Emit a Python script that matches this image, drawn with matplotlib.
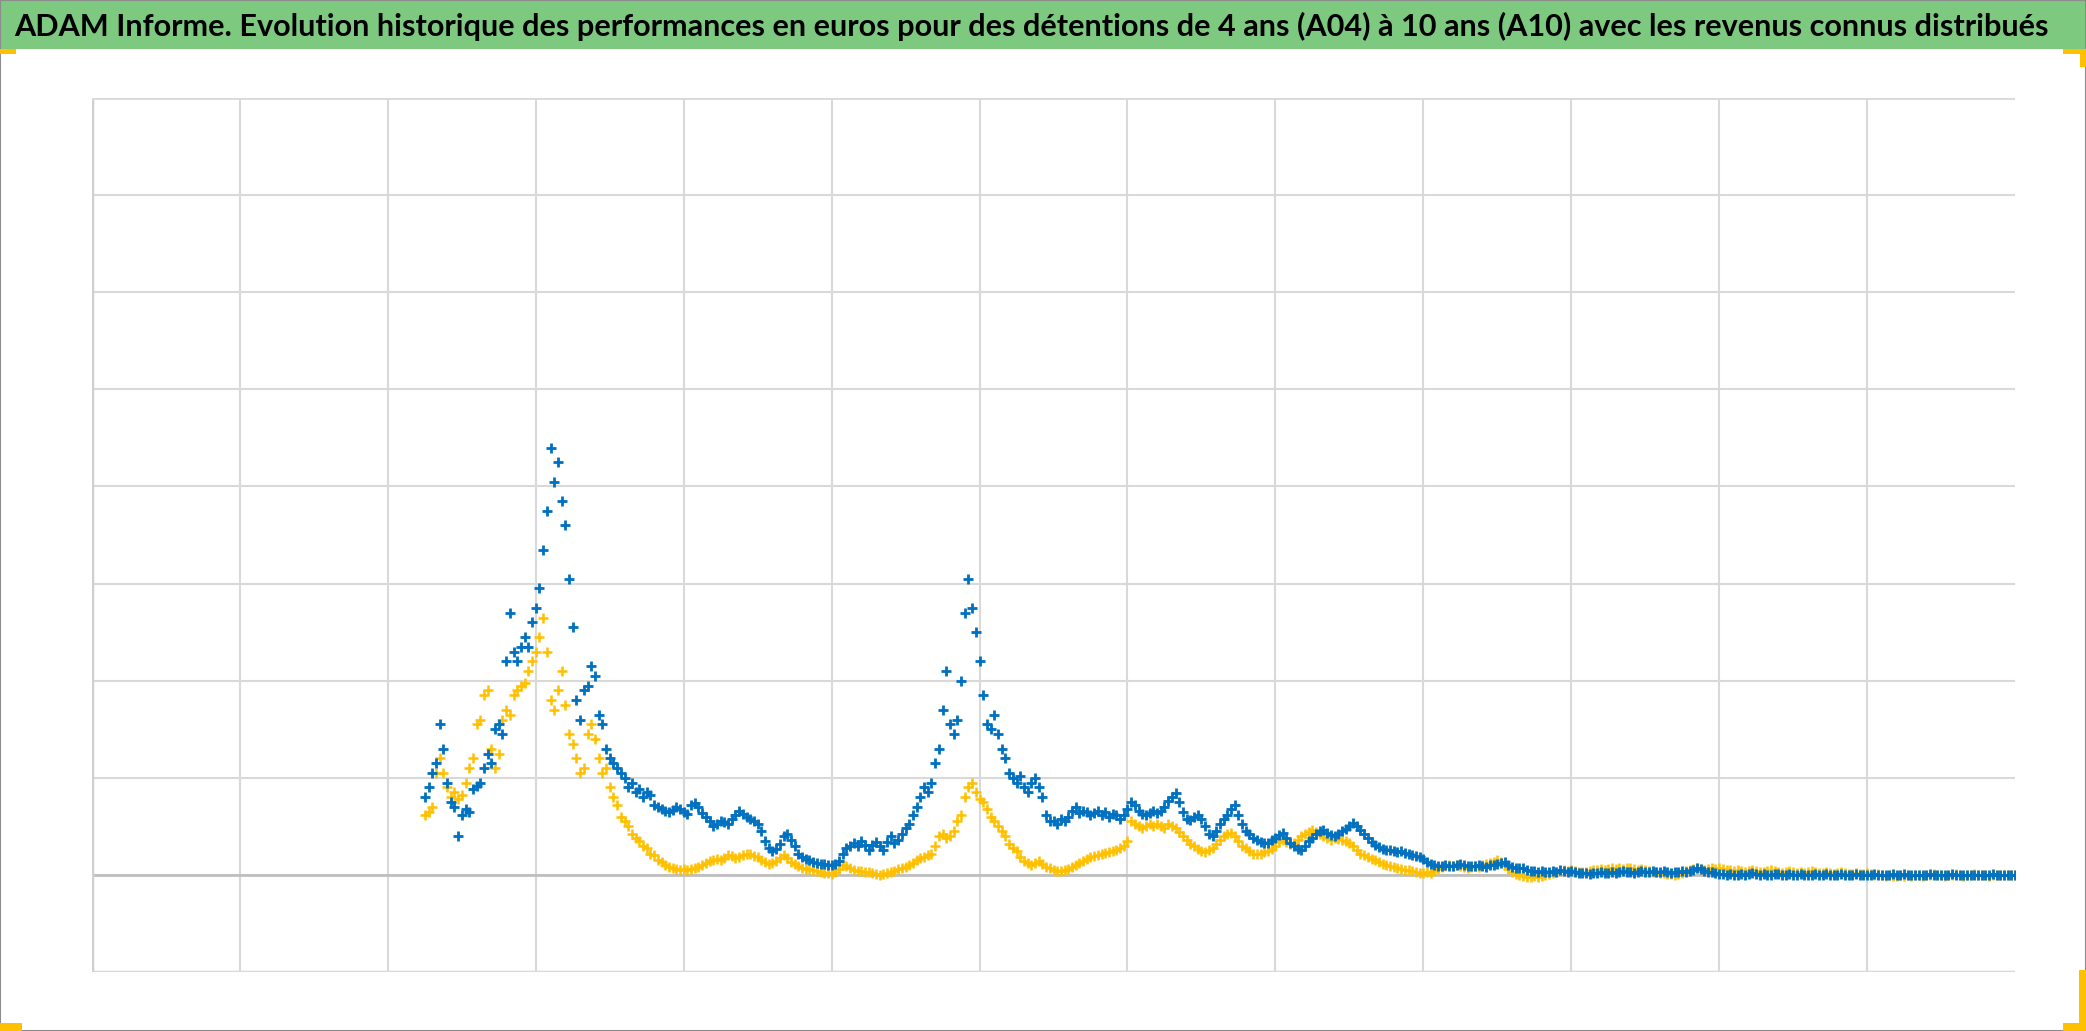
#!/usr/bin/env python3
# -*- coding: utf-8 -*-
import numpy as np
from matplotlib import pyplot as plt
from matplotlib.patches import Rectangle

title = ('ADAM Informe. Evolution historique des performances en euros pour des détentions '
         'de 4 ans (A04) à 10 ans (A10) avec les revenus connus distribués')

# both series are sampled every 0.025 grid units, starting at x = 2.25
x_start = 2.25
x_step = 0.025

# detention 4 ans (A04), blue
perf_a04 = [
    0.80, 0.90, 1.05, 1.15, 1.55, 1.30, 0.95, 0.75, 0.70, 0.40, 0.62, 0.68, 0.65, 0.88, 0.92, 0.95, 1.10, 1.25, 1.15, 1.50,
    1.55, 1.45, 2.20, 2.70, 2.30, 2.20, 2.35, 2.45, 2.35, 2.60, 2.75, 2.95, 3.35, 3.75, 4.40, 4.05, 4.25, 3.85, 3.60, 3.05,
    2.55, 1.80, 1.60, 1.90, 1.95, 2.15, 2.05, 1.65, 1.55, 1.30, 1.20, 1.15, 1.10, 1.05, 1.00, 0.90, 0.95, 0.85, 0.88, 0.80,
    0.85, 0.82, 0.72, 0.70, 0.68, 0.66, 0.65, 0.67, 0.70, 0.68, 0.65, 0.63, 0.72, 0.74, 0.70, 0.64, 0.60, 0.55, 0.50, 0.52,
    0.56, 0.54, 0.52, 0.58, 0.62, 0.66, 0.63, 0.60, 0.58, 0.56, 0.52, 0.45, 0.35, 0.28, 0.25, 0.27, 0.32, 0.40, 0.42, 0.36,
    0.30, 0.22, 0.18, 0.16, 0.15, 0.13, 0.12, 0.11, 0.11, 0.10, 0.10, 0.11, 0.14, 0.22, 0.28, 0.30, 0.33, 0.30, 0.35, 0.31,
    0.26, 0.31, 0.34, 0.30, 0.26, 0.34, 0.40, 0.33, 0.36, 0.42, 0.48, 0.52, 0.62, 0.70, 0.80, 0.90, 0.85, 0.95, 1.15, 1.30,
    1.70, 2.10, 1.55, 1.45, 1.60, 2.00, 2.70, 3.05, 2.75, 2.50, 2.20, 1.85, 1.55, 1.50, 1.65, 1.45, 1.30, 1.20, 1.05, 1.00,
    0.95, 1.02, 0.90, 0.85, 0.95, 1.00, 0.90, 0.80, 0.62, 0.56, 0.55, 0.52, 0.58, 0.55, 0.60, 0.66, 0.70, 0.64, 0.66, 0.65,
    0.62, 0.64, 0.66, 0.62, 0.65, 0.60, 0.63, 0.62, 0.58, 0.62, 0.68, 0.75, 0.72, 0.66, 0.63, 0.62, 0.64, 0.66, 0.64, 0.66,
    0.70, 0.76, 0.80, 0.84, 0.75, 0.65, 0.58, 0.57, 0.60, 0.62, 0.58, 0.50, 0.42, 0.40, 0.45, 0.52, 0.58, 0.62, 0.68, 0.72,
    0.62, 0.52, 0.45, 0.42, 0.38, 0.36, 0.34, 0.33, 0.33, 0.36, 0.38, 0.41, 0.43, 0.38, 0.33, 0.30, 0.27, 0.26, 0.30, 0.35,
    0.38, 0.42, 0.45, 0.46, 0.43, 0.41, 0.40, 0.42, 0.45, 0.47, 0.50, 0.53, 0.50, 0.46, 0.42, 0.38, 0.34, 0.31, 0.29, 0.27,
    0.26, 0.26, 0.25, 0.24, 0.25, 0.23, 0.21, 0.20, 0.19, 0.18, 0.16, 0.13, 0.11, 0.10, 0.09, 0.09, 0.10, 0.09, 0.09, 0.10,
    0.11, 0.10, 0.09, 0.09, 0.09, 0.10, 0.09, 0.08, 0.10, 0.10, 0.11, 0.12, 0.13, 0.10, 0.08, 0.07, 0.07, 0.07, 0.05, 0.04,
    0.04, 0.03, 0.04, 0.03, 0.03, 0.04, 0.03, 0.05, 0.04, 0.03, 0.04, 0.03, 0.02, 0.02, 0.02, 0.01, 0.02, 0.02, 0.03, 0.02,
    0.02, 0.03, 0.02, 0.03, 0.04, 0.03, 0.03, 0.02, 0.03, 0.04, 0.03, 0.03, 0.04, 0.03, 0.03, 0.04, 0.03, 0.02, 0.03, 0.03,
    0.04, 0.03, 0.04, 0.05, 0.07, 0.06, 0.04, 0.03, 0.03, 0.02, 0.01, 0.01, 0.00, 0.01, 0.00, 0.00, 0.01, 0.00, 0.01, 0.02,
    0.01, 0.00, 0.01, 0.00, 0.00, 0.01, 0.01, 0.00, 0.00, 0.01, 0.00, 0.00, 0.01, 0.00, 0.00, 0.00, 0.01, 0.00, 0.00, 0.01,
    0.00, 0.00, 0.00, 0.01, 0.00, 0.00, 0.00, 0.01, 0.00, 0.00, 0.00, 0.00, 0.01, 0.00, 0.00, 0.00, 0.00, 0.01, 0.00, 0.00,
    0.01, 0.00, 0.00, 0.00, 0.00, 0.00, 0.00, 0.01, 0.00, 0.00, 0.00, 0.00, 0.00, 0.01, 0.00, 0.00, 0.00, 0.00, 0.00, 0.00,
    0.00, 0.00, 0.00, 0.00, 0.01, 0.00, 0.00, 0.00, 0.00, 0.00, 0.00,
]

# detention 10 ans (A10), gold
perf_a10 = [
    0.62, 0.65, 0.70, 1.05, 1.20, 1.05, 0.90, 0.80, 0.85, 0.78, 0.82, 0.95, 1.10, 1.20, 1.55, 1.60, 1.85, 1.90, 1.30, 1.10,
    1.25, 1.60, 1.70, 1.65, 1.85, 1.90, 1.95, 1.98, 2.10, 2.20, 2.30, 2.45, 2.65, 2.30, 1.80, 1.70, 1.90, 2.10, 1.75, 1.45,
    1.35, 1.20, 1.05, 1.10, 1.45, 1.55, 1.40, 1.20, 1.05, 1.10, 0.90, 0.80, 0.72, 0.60, 0.55, 0.50, 0.42, 0.38, 0.35, 0.30,
    0.28, 0.22, 0.20, 0.15, 0.13, 0.10, 0.08, 0.07, 0.06, 0.05, 0.06, 0.05, 0.06, 0.07, 0.08, 0.10, 0.12, 0.14, 0.15, 0.16,
    0.15, 0.17, 0.20, 0.19, 0.17, 0.18, 0.20, 0.21, 0.22, 0.19, 0.18, 0.15, 0.13, 0.11, 0.12, 0.14, 0.17, 0.20, 0.17, 0.13,
    0.11, 0.09, 0.07, 0.06, 0.06, 0.05, 0.04, 0.03, 0.02, 0.02, 0.01, 0.03, 0.06, 0.10, 0.09, 0.07, 0.05, 0.04, 0.04, 0.03,
    0.03, 0.02, 0.01, 0.00, 0.01, 0.02, 0.03, 0.04, 0.06, 0.07, 0.08, 0.10, 0.12, 0.15, 0.17, 0.18, 0.20, 0.22, 0.30, 0.40,
    0.42, 0.38, 0.40, 0.45, 0.55, 0.62, 0.80, 0.90, 0.95, 0.85, 0.78, 0.75, 0.68, 0.60, 0.55, 0.50, 0.45, 0.40, 0.32, 0.28,
    0.25, 0.18, 0.14, 0.12, 0.10, 0.12, 0.14, 0.11, 0.08, 0.07, 0.05, 0.04, 0.04, 0.05, 0.06, 0.08, 0.10, 0.12, 0.14, 0.16,
    0.18, 0.19, 0.20, 0.22, 0.23, 0.24, 0.25, 0.26, 0.28, 0.30, 0.35, 0.55, 0.52, 0.50, 0.48, 0.50, 0.52, 0.50, 0.52, 0.50,
    0.48, 0.52, 0.50, 0.48, 0.44, 0.40, 0.36, 0.32, 0.30, 0.27, 0.25, 0.24, 0.26, 0.28, 0.32, 0.36, 0.40, 0.42, 0.43, 0.40,
    0.35, 0.30, 0.28, 0.25, 0.22, 0.21, 0.22, 0.24, 0.25, 0.27, 0.30, 0.34, 0.36, 0.34, 0.32, 0.33, 0.36, 0.40, 0.42, 0.44,
    0.46, 0.44, 0.42, 0.40, 0.38, 0.36, 0.38, 0.37, 0.36, 0.35, 0.33, 0.30, 0.26, 0.22, 0.20, 0.18, 0.16, 0.15, 0.13, 0.11,
    0.10, 0.09, 0.08, 0.07, 0.06, 0.05, 0.05, 0.04, 0.03, 0.02, 0.02, 0.03, 0.02, 0.04, 0.06, 0.08, 0.09, 0.10, 0.09, 0.10,
    0.09, 0.08, 0.07, 0.08, 0.09, 0.08, 0.10, 0.11, 0.12, 0.13, 0.15, 0.13, 0.10, 0.06, 0.03, 0.01, 0.00, -0.01, -0.02, -0.02,
    -0.01, -0.02, -0.01, 0.00, 0.01, 0.02, 0.03, 0.04, 0.05, 0.04, 0.05, 0.04, 0.03, 0.03, 0.03, 0.04, 0.05, 0.05, 0.06, 0.05,
    0.06, 0.07, 0.06, 0.07, 0.06, 0.07, 0.07, 0.06, 0.05, 0.06, 0.05, 0.04, 0.03, 0.03, 0.02, 0.02, 0.01, 0.01, 0.00, 0.01,
    0.02, 0.04, 0.05, 0.06, 0.07, 0.06, 0.05, 0.06, 0.07, 0.06, 0.07, 0.06, 0.05, 0.05, 0.04, 0.05, 0.04, 0.03, 0.04, 0.05,
    0.04, 0.03, 0.03, 0.04, 0.05, 0.04, 0.03, 0.02, 0.03, 0.04, 0.03, 0.02, 0.03, 0.02, 0.03, 0.04, 0.03, 0.02, 0.02, 0.03,
    0.02, 0.01, 0.02, 0.03, 0.02, 0.01, 0.01, 0.02, 0.01, 0.01, 0.02, 0.01, 0.00, 0.01, 0.00, -0.01, 0.00, -0.01, -0.01, 0.00,
    -0.01, 0.00, -0.01, 0.00, 0.00, -0.01, 0.00, 0.00, 0.01, 0.00, 0.00, -0.01, 0.00, 0.00, 0.01, 0.00, -0.01, 0.00, 0.00, 0.01,
    0.00, 0.00, 0.00, -0.01, 0.00, 0.00, 0.00, 0.00, 0.00, 0.00, 0.00,
]

x_ticks = np.arange(0, 13)
y_ticks = np.arange(-1, 9)

blue = '#0070C0'
gold = '#FFC000'
W, H = 2086, 1031


def corner(fig, x0, y0, w, h):
    # gold bracket pieces, given in pixels from the top left corner
    fig.patches.append(Rectangle((x0 / W, 1 - (y0 + h) / H), w / W, h / H, transform=fig.transFigure,
                                 facecolor=gold, edgecolor='none', zorder=5))


def main():
    fig = plt.figure(figsize=(W / 100, H / 100), dpi=100)

    # green title banner
    fig.patches.append(Rectangle((0, 1 - 49 / H), 1, 49 / H, transform=fig.transFigure,
                                 facecolor='#7DC97F', edgecolor='none', zorder=0))
    ttl = fig.text(0.4945, 1 - 26 / H, title, ha='center', va='center', fontsize=22, fontweight='bold',
                   family=['Lato', 'DejaVu Sans'], color='black')
    # fit the title to the banner width seen in the reference
    rend = fig.canvas.get_renderer()
    w_now = ttl.get_window_extent(renderer=rend).width
    ttl.set_fontsize(22 * 2035 / w_now)

    # outer frame
    fig.patches.append(Rectangle((0, 0), 1, 1, transform=fig.transFigure, facecolor='none',
                                 edgecolor='#8c8c8c', linewidth=1.5, zorder=4))
    corner(fig, 0, 49, 16, 5)
    corner(fig, 2063, 49, 23, 5)
    corner(fig, 2080, 49, 6, 18)
    corner(fig, 0, 1023, 22, 8)
    corner(fig, 2063, 1023, 23, 8)
    corner(fig, 2079, 970, 7, 60)

    ax = fig.add_axes([92 / W, 1 - 972 / H, (2015 - 92) / W, (972 - 98) / H])
    xs_a04 = x_start + x_step * np.arange(len(perf_a04))
    xs_a10 = x_start + x_step * np.arange(len(perf_a10))
    ax.plot(xs_a10, perf_a10, linestyle='none', marker='+', markersize=7, markeredgewidth=1.8, color=gold, zorder=3)
    ax.plot(xs_a04, perf_a04, linestyle='none', marker='+', markersize=7, markeredgewidth=2.0, color=blue, zorder=4)

    ax.set_xlim(0, 13)
    ax.set_ylim(-1, 8)
    ax.set_xticks(x_ticks)
    ax.set_yticks(y_ticks)
    ax.grid(True, color='#d9d9d9', linewidth=1.5)
    ax.axhline(0, color='#bfbfbf', linewidth=2, zorder=2)
    ax.axhline(-1, color='#d9d9d9', linewidth=2.5, zorder=2)
    ax.axvline(0, color='#d0d0d0', linewidth=2.5, zorder=2)
    ax.axhline(8, color='#d9d9d9', linewidth=2, zorder=2)
    ax.tick_params(length=0, labelleft=False, labelbottom=False)
    for sp in ax.spines.values():
        sp.set_visible(False)
    ax.set_axisbelow(True)

    plt.savefig('out.png', dpi=100)
    plt.close()


if __name__ == '__main__':
    main()
